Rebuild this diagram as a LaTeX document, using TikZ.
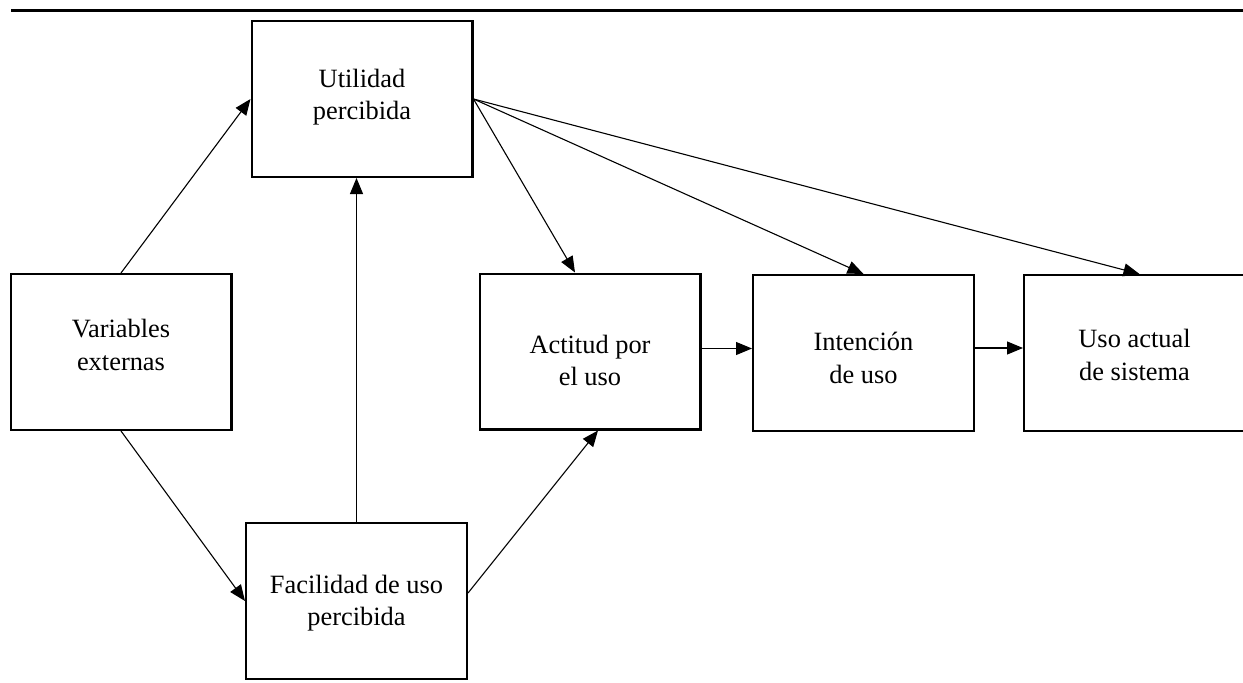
\documentclass[tikz,border=0pt]{standalone}
\usepackage{fontspec}
\setmainfont{Liberation Serif}
\usetikzlibrary{arrows.meta,calc}
\begin{document}
\begin{tikzpicture}[x=1pt,y=-1pt,
  box/.style={draw,line width=2.4pt,minimum width=220.6pt,minimum height=155.6pt,inner sep=0pt},
  lbl/.style={align=center,inner sep=0pt,font=\fontsize{26.4}{32.5}\selectfont},
  conn/.style={line width=1.1pt,-{Triangle[length=16pt,width=13pt]}}]
\useasboundingbox (0,0) rectangle (1243,683);
% rule across the top
\draw[line width=3pt] (11,10) -- (1243,10);

% boxes
\node[box] (ut) at (362,99) {};
\node[box] (ve) at (121,352) {};
\node[box] (fa) at (356.5,601) {};
\node[box] (ac) at (590,351.5) {};
\node[box] (in) at (863.5,353) {};
\node[box] (us) at (1134.5,353) {};

% labels
\node[lbl] (ut-t) at ($(ut)+(0,-2)$) {Utilidad\\percibida};
\node[lbl] (ve-t) at ($(ve)+(0,-7)$) {Variables\\externas};
\node[lbl] (fa-t) at ($(fa)+(0,2)$) {Facilidad de uso\\percibida};
\node[lbl] (ac-t) at ($(ac)+(0,9)$) {Actitud por\\el uso};
\node[lbl] (in-t) at ($(in)+(0,5)$) {Intención\\de uso};
\node[lbl] (us-t) at ($(us)+(0,2)$) {Uso actual\\de sistema};

% connectors
\draw[conn] (ve.north) -- (ut.west);
\draw[conn] (ve.south) -- (fa.west);
\draw[conn] (fa.north) -- (fa.north |- ut.south);
\draw[conn] ([yshift=8pt]fa.east) -- ([xshift=8pt]ac.south);
\draw[conn] (ut.east) -- ([xshift=-15pt]ac.north);
\draw[conn] (ut.east) -- (in.north);
\draw[conn] (ut.east) -- ([xshift=5pt]us.north);
\draw[conn] ([yshift=3pt]ac.east) -- ([yshift=3pt]ac.east -| in.west);
\draw[conn] ([yshift=5pt]in.east) -- ([yshift=5pt]in.east -| us.west);
\end{tikzpicture}
\end{document}
